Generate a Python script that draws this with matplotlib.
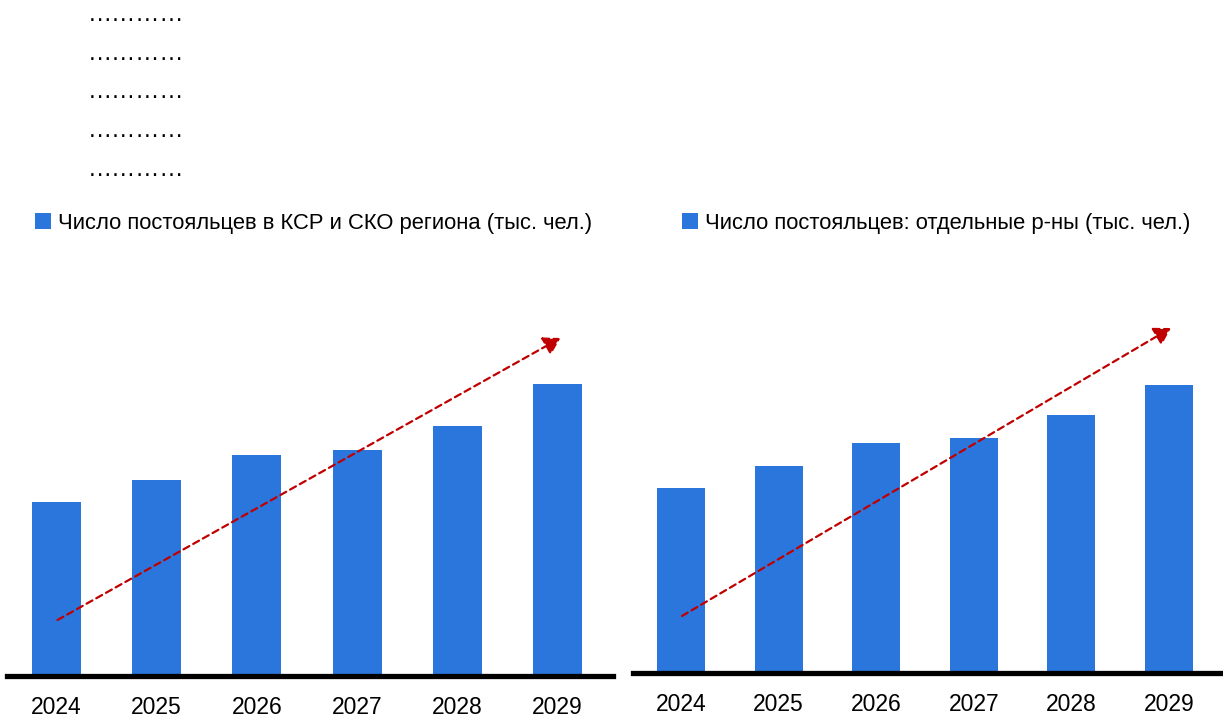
import matplotlib
matplotlib.use("Agg")
import matplotlib.pyplot as plt
from matplotlib import font_manager

names = {f.name for f in font_manager.fontManager.ttflist}
FAM = ['Liberation Sans Narrow', 'Liberation Sans', 'DejaVu Sans'] if 'Liberation Sans Narrow' in names else ['Liberation Sans', 'DejaVu Sans']
plt.rcParams['font.family'] = FAM

# ---- data ----
years = ['2024', '2025', '2026', '2027', '2028', '2029']
left_values = [172, 194, 219, 224, 248, 290]
right_values = [183, 205, 228, 233, 256, 286]
left_label = 'Число постояльцев в КСР и СКО региона (тыс. чел.)'
right_label = 'Число постояльцев: отдельные р-ны (тыс. чел.)'
left_trend = [(0.01, 54), (5.03, 336)]
right_trend = [(0.01, 55), (5.02, 343)]
dots_rows = ['…………'] * 5

BLUE = '#2A76DD'
RED = '#C00000'
W, H = 1223, 720

fig = plt.figure(figsize=(W / 100, H / 100), dpi=100)


def make_panel(x0, x1, base, cen0, spacing, values, label, trend, leg_x, leg_y):
    # axes in pixel coords: 1 data unit on y = 1 px
    top = 290
    ax = fig.add_axes([x0 / W, (H - base) / H, (x1 - x0) / W, (base - top) / H])
    xl = (x0 - cen0) / spacing
    xr = (x1 - cen0) / spacing
    ax.set_xlim(xl, xr)
    ax.set_ylim(0, base - top)
    xs = list(range(len(values)))
    ax.bar(xs, values, width=0.49, color=BLUE, edgecolor='none', label=label, zorder=2)
    for s in ['top', 'right', 'left']:
        ax.spines[s].set_visible(False)
    ax.spines['bottom'].set_linewidth(3.8)
    ax.spines['bottom'].set_color('black')
    ax.spines['bottom'].set_zorder(5)
    ax.spines['bottom'].set_position(('outward', 1.5))
    ax.set_yticks([])
    ax.set_xticks(xs)
    ax.set_xticklabels(years, fontsize=16.5)
    ax.tick_params(axis='x', length=0, pad=14)
    (sx, sy), (ex, ey) = trend
    ax.annotate('', xy=(ex, ey), xytext=(sx, sy),
                arrowprops=dict(arrowstyle='-|>,head_length=1.0,head_width=0.6',
                                color=RED, lw=1.6, linestyle=(0, (3, 2)),
                                shrinkA=0, shrinkB=0),
                zorder=6, annotation_clip=False)
    ax.legend(loc='center left', bbox_to_anchor=(leg_x / W, (H - leg_y) / H),
              bbox_transform=fig.transFigure, frameon=False, fontsize=15.8,
              handlelength=0.75, handleheight=0.75, handletextpad=0.3,
              borderpad=0, borderaxespad=0)
    return ax


make_panel(7, 613, 674, 56.5, 100.2, left_values, left_label, left_trend, 35, 223)
make_panel(633, 1220, 671, 681, 97.6, right_values, right_label, right_trend, 682, 223)

for i, t in enumerate(dots_rows):
    fig.text(88 / W, (H - (15 + i * 38.7)) / H, t, fontsize=17.5, ha='left', va='center')

fig.savefig('out.png', dpi=100, facecolor='white')
